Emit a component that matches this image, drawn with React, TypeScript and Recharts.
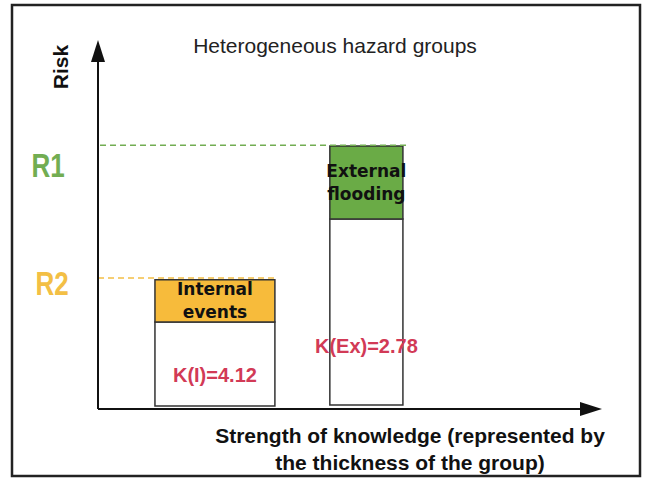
import React from 'react';
import { ComposedChart, XAxis, YAxis, ReferenceArea, ReferenceLine } from 'recharts';

// hazard groups: x span = thickness (strength of knowledge), y = risk
const groups = ['Internal events', 'External flooding'];
const groupStart = [11.3, 46.0];
const groupEnd = [35.1, 60.5];
const groupBase = [0.8, 1.1];
const groupBand = [23.6, 51.5];
const groupTop = [35.0, 71.3];
const knowledgeTag = ['K(I)', 'K(Ex)'];
const knowledge = [4.12, 2.78];
const groupColors = ['#f7bb3b', '#6aab46'];

// risk levels marked on the y axis
const levelNames = ['R2', 'R1'];
const levelValues = [35.5, 71.5];
const levelFrom = [0, 0.4];
const levelTo = [35.1, 61.3];
const levelColors = ['#f3bf45', '#72ad52'];

const W = 648;
const H = 481;
const FONT = '"Liberation Sans", Arial, sans-serif';

const Arrow = (props: any) => {
  const { x1, y1, x2, y2 } = props;
  const dx = x2 - x1;
  const dy = y2 - y1;
  const len = Math.sqrt(dx * dx + dy * dy) || 1;
  const ux = dx / len;
  const uy = dy / len;
  const head = 22;
  const half = 7;
  const bx = x2 - ux * head;
  const by = y2 - uy * head;
  return (
    <g>
      <line x1={x1} y1={y1} x2={bx} y2={by} stroke="#111" strokeWidth={2} />
      <polygon
        points={`${x2},${y2} ${bx - uy * half},${by + ux * half} ${bx + uy * half},${by - ux * half}`}
        fill="#111"
      />
    </g>
  );
};

const bandLabel = (name: string) => (p: any) => {
  const vb = p.viewBox || {};
  const cx = vb.x + vb.width / 2;
  const cy = vb.y + vb.height / 2 + 6;
  const lines = name.split(' ');
  return (
    <text textAnchor="middle" fontFamily='"DejaVu Sans", sans-serif' fontWeight="bold" fontSize={17} fill="#111">
      {lines.map((l, i) => (
        <tspan key={i} x={cx} y={cy + (i - (lines.length - 1) / 2) * 23}>
          {l}
        </tspan>
      ))}
    </text>
  );
};

const kLabel = (tag: string, k: number) => (p: any) => {
  const vb = p.viewBox || {};
  return (
    <text
      x={vb.x + vb.width / 2}
      y={vb.y + vb.height * 0.72}
      textAnchor="middle"
      fontFamily={FONT}
      fontWeight="bold"
      fontSize={20}
      fill="#d23a56"
    >
      {`${tag}=${k.toFixed(2)}`}
    </text>
  );
};

export default function App() {
  return (
    <div style={{ position: 'absolute', left: 0, top: 0, width: W, height: H, background: '#fff' }}>
      <ComposedChart width={W} height={H} margin={{ top: 40, right: 46, bottom: 72, left: 98 }}>
        <XAxis type="number" dataKey="x" domain={[0, 100]} allowDataOverflow hide />
        <YAxis type="number" domain={[0, 100]} allowDataOverflow hide />
        {groups.map((g, i) => (
          <ReferenceArea
            key={`w${i}`}
            x1={groupStart[i]}
            x2={groupEnd[i]}
            y1={groupBase[i]}
            y2={groupBand[i]}
            fill="#fff"
            fillOpacity={1}
            stroke="#333"
            strokeWidth={1.5}
            ifOverflow="visible"
            label={{ content: kLabel(knowledgeTag[i], knowledge[i]) }}
          />
        ))}
        {groups.map((g, i) => (
          <ReferenceArea
            key={`c${i}`}
            x1={groupStart[i]}
            x2={groupEnd[i]}
            y1={groupBand[i]}
            y2={groupTop[i]}
            fill={groupColors[i]}
            fillOpacity={1}
            stroke="#333"
            strokeWidth={1.5}
            ifOverflow="visible"
            label={{ content: bandLabel(g) }}
          />
        ))}
        {levelNames.map((n, i) => (
          <ReferenceLine
            key={n}
            segment={[
              { x: levelFrom[i], y: levelValues[i] },
              { x: levelTo[i], y: levelValues[i] },
            ]}
            stroke={levelColors[i]}
            strokeWidth={1.5}
            strokeDasharray="6 4"
            ifOverflow="visible"
          />
        ))}
        <ReferenceLine segment={[{ x: 0, y: 0 }, { x: 0, y: 100 }]} shape={Arrow} ifOverflow="visible" />
        <ReferenceLine segment={[{ x: 0, y: 0 }, { x: 100, y: 0 }]} shape={Arrow} ifOverflow="visible" />
      </ComposedChart>
      <svg width={W} height={H} style={{ position: 'absolute', left: 0, top: 0, pointerEvents: 'none' }}>
        <rect x={12} y={5} width={628} height={471} fill="none" stroke="#222" strokeWidth={2.5} />
        <text x={335} y={53} textAnchor="middle" fontFamily={FONT} fontSize={21} fill="#222">
          Heterogeneous hazard groups
        </text>
        <text transform="translate(68,67) rotate(-90)" textAnchor="middle" fontFamily={FONT} fontWeight="bold" fontSize={21} fill="#111">
          Risk
        </text>
        {levelNames.map((n, i) => (
          <text
            key={n}
            transform={i === 1 ? 'translate(48,177) scale(1,1.25)' : 'translate(52,295) scale(1,1.25)'}
            textAnchor="middle"
            fontFamily={FONT}
            fontWeight="bold"
            fontSize={26}
            fill={levelColors[i]}
          >
            {n}
          </text>
        ))}
        <text textAnchor="middle" fontFamily={FONT} fontWeight="bold" fontSize={21} fill="#111">
          <tspan x={410} y={443}>Strength of knowledge (represented by</tspan>
          <tspan x={410} y={470}>the thickness of the group)</tspan>
        </text>
      </svg>
    </div>
  );
}
